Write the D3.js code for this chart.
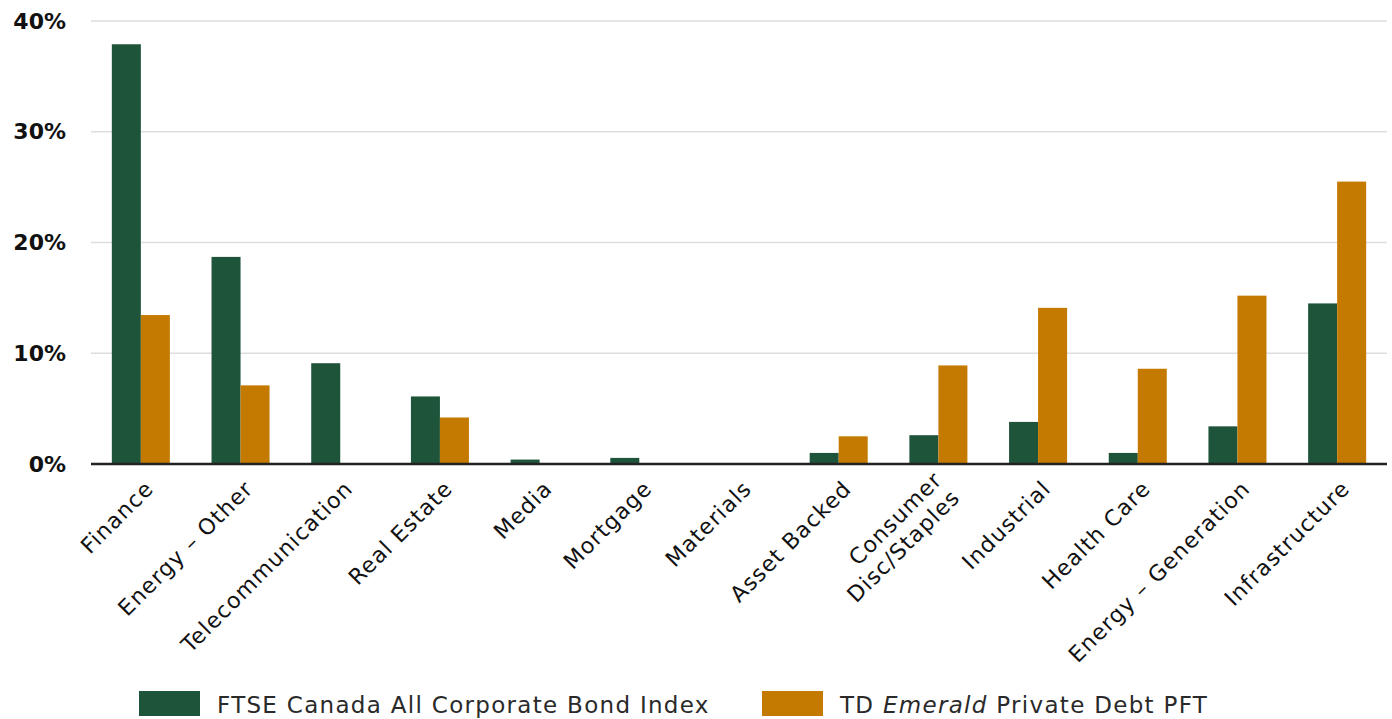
<!DOCTYPE html>
<html>
<head>
<meta charset="utf-8">
<script src="https://cdn.jsdelivr.net/npm/d3@7"></script>
<style>
  body { margin: 0; background: #fff; }
  svg { display: block; font-family: "DejaVu Sans", sans-serif; }
</style>
</head>
<body>
<svg width="1392" height="719"></svg>
<script>
let categories = ["Finance", "Energy \u2013 Other", "Telecommunication", "Real Estate", "Media", "Mortgage",
    "Materials", "Asset Backed", "Consumer|Disc/Staples", "Industrial", "Health Care",
    "Energy \u2013 Generation", "Infrastructure"];
let ftse = [37.9, 18.7, 9.1, 6.1, 0.4, 0.55, 0, 1.0, 2.6, 3.8, 1.0, 3.4, 14.5];
let emerald = [13.45, 7.1, 0, 4.2, 0, 0, 0, 2.5, 8.9, 14.1, 8.6, 15.2, 25.5];
let yTicks = [0, 10, 20, 30, 40];
let seriesNames = ["ftse", "emerald"];
let colors = {ftse: "#1d543a", emerald: "#c47a00"};

let svg = d3.select("svg"),
    margin = {top: 21, right: 5, bottom: 255, left: 91},
    width = 1392 - margin.left - margin.right,
    height = 719 - margin.top - margin.bottom;

let data = categories.map(function(c, i) { return {cat: c, ftse: ftse[i], emerald: emerald[i]}; });

let x = d3.scaleBand().domain(categories).range([0, width]).paddingInner(0.418).paddingOuter(0.209);
let x1 = d3.scaleBand().domain(seriesNames).range([0, x.bandwidth()]);
let y = d3.scaleLinear().domain([0, 40]).range([height, 0]);

let g = svg.append("g")
    .attr("transform", "translate(" + margin.left + "," + margin.top + ")");

// gridlines
g.append("g")
    .selectAll("line")
    .data(yTicks.filter(function(d) { return d > 0; }))
    .enter().append("line")
    .attr("x1", 0).attr("x2", width)
    .attr("y1", function(d) { return y(d); })
    .attr("y2", function(d) { return y(d); })
    .attr("stroke", "#dedede")
    .attr("stroke-width", 1.5);

// y axis labels
let yAxis = d3.axisLeft(y).tickValues(yTicks).tickSize(0).tickPadding(25)
    .tickFormat(function(d) { return d + "%"; });
g.append("g").call(yAxis)
    .call(function(s) { s.select(".domain").remove(); })
    .selectAll("text")
    .attr("fill", "#111")
    .style("font-family", "'DejaVu Sans', sans-serif")
    .style("font-size", "22px")
    .style("font-weight", "bold");

// bars
let groups = g.selectAll(".grp")
    .data(data)
    .enter().append("g")
    .attr("class", "grp")
    .attr("transform", function(d) { return "translate(" + x(d.cat) + ",0)"; });

groups.selectAll("rect")
    .data(function(d) { return seriesNames.map(function(k) { return {key: k, value: d[k]}; }); })
    .enter().append("rect")
    .filter(function(d) { return d.value > 0; })
    .attr("x", function(d) { return x1(d.key); })
    .attr("width", x1.bandwidth())
    .attr("y", function(d) { return y(d.value); })
    .attr("height", function(d) { return height - y(d.value); })
    .attr("fill", function(d) { return colors[d.key]; });

// x axis baseline
g.append("line")
    .attr("x1", 0).attr("x2", width)
    .attr("y1", height).attr("y2", height)
    .attr("stroke", "#222")
    .attr("stroke-width", 2.5);

// x labels, rotated
let xl = g.append("g").attr("transform", "translate(0," + height + ")");
categories.forEach(function(c) {
    let lines = c.split("|");
    let cx = x(c) + x.bandwidth() / 2 + 14;
    let t = xl.append("text")
        .attr("transform", "translate(" + cx + ",26) rotate(-45)")
        .attr("text-anchor", "end")
        .attr("fill", "#111")
        .style("font-size", "22px")
        .style("letter-spacing", "1.1px");
    lines.forEach(function(l, i) {
        t.append("tspan")
            .attr("x", 0)
            .attr("y", (i - (lines.length - 1) / 2) * 25)
            .text(l);
    });
});

// legend
let legend = svg.append("g").attr("transform", "translate(139,691)");
let legendItems = [
    {key: "ftse", x: 0, parts: [["FTSE Canada All Corporate Bond Index", "normal"]]},
    {key: "emerald", x: 623, parts: [["TD ", "normal"], ["Emerald", "oblique"], [" Private Debt PFT", "normal"]]}
];
legendItems.forEach(function(it) {
    let lg = legend.append("g").attr("transform", "translate(" + it.x + ",0)");
    lg.append("rect").attr("width", 61).attr("height", 25).attr("fill", colors[it.key]);
    let t = lg.append("text").attr("x", 78).attr("y", 22)
        .attr("fill", "#2a2a2a")
        .style("font-size", "23px")
        .style("letter-spacing", "1.3px");
    it.parts.forEach(function(p) {
        t.append("tspan").style("font-style", p[1]).text(p[0]);
    });
});
</script>
</body>
</html>
